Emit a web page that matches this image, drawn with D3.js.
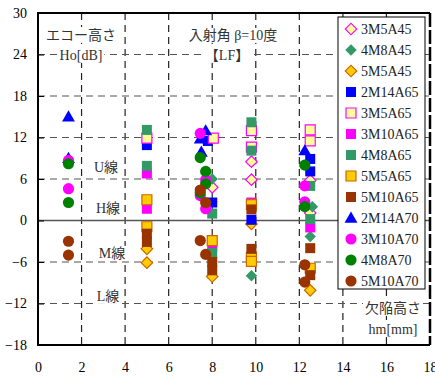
<!DOCTYPE html>
<html><head><meta charset="utf-8">
<script src="https://cdn.jsdelivr.net/npm/d3@7"></script>
<style>body{margin:0;background:#fff}</style>
</head><body>
<svg id="c" width="435" height="385"></svg>
<script>
// ---- data ----
const xTicks = [0,2,4,6,8,10,12,14,16,18];
const yTicks = [-18,-12,-6,0,6,12,18,24,30];
const seriesNames = ["3M5A45","4M8A45","5M5A45","2M14A65","3M5A65","3M10A65","4M8A65","5M5A65","5M10A65","2M14A70","3M10A70","4M8A70","5M10A70"];
// each series: [hm (mm), Ho (dB)]
const s3M5A45  = [[9.8,8.5],[9.8,5.9],[8.0,4.8],[12.5,1.1],[12.5,5.8]];
const s4M8A45  = [[8.0,6.0],[9.8,-8.0],[12.6,2.0],[12.5,-2.3]];
const s5M5A45  = [[5.0,-4.1],[5.0,-6.1],[8.0,-8.1],[9.8,-0.5],[12.5,-10.1]];
const s2M14A65 = [[5.0,10.9],[7.8,11.5],[8.0,2.6],[9.8,0.1],[12.5,8.9],[12.5,7.1]];
const s3M5A65  = [[5.0,11.9],[8.05,11.9],[9.8,13.0],[9.8,10.6],[12.5,13.1],[12.5,11.5]];
const s3M10A65 = [[5.0,6.8],[5.0,1.7],[8.0,-3.8],[9.8,2.6],[12.5,-1.0]];
const s4M8A65  = [[5.0,13.1],[5.0,7.9],[8.0,1.0],[8.0,-4.7],[9.8,14.2],[9.8,10.1],[12.5,5.0],[12.5,0.2]];
const s5M5A65  = [[5.0,3.0],[5.0,-0.9],[8.0,-2.9],[9.8,2.3],[9.8,-5.3],[9.8,-5.9],[12.5,-6.9]];
const s5M10A65 = [[5.0,-1.9],[5.0,-3.1],[8.0,-6.0],[8.0,-7.2],[9.8,1.6],[9.8,-4.1],[12.5,-4.0],[12.5,-7.9]];
const s2M14A70 = [[1.4,15.0],[1.4,9.0],[7.7,13.0],[7.45,11.8],[7.5,9.9],[12.25,10.1]];
const s3M10A70 = [[1.4,8.7],[1.4,4.6],[7.45,12.6],[7.7,5.9],[7.45,3.6],[7.7,1.7],[12.25,5.0],[12.25,2.7]];
const s4M8A70  = [[1.4,8.2],[1.4,2.6],[7.45,9.1],[7.7,7.1],[7.7,5.3],[7.45,4.0],[12.25,8.0],[12.25,2.0]];
const s5M10A70 = [[1.4,-3.0],[1.4,-5.0],[7.45,4.4],[7.7,2.6],[7.45,-2.9],[7.7,-4.9],[12.25,-6.4],[12.25,-8.9]];
const seriesData = [s3M5A45,s4M8A45,s5M5A45,s2M14A65,s3M5A65,s3M10A65,s4M8A65,s5M5A65,s5M10A65,s2M14A70,s3M10A70,s4M8A70,s5M10A70];

// ---- styles ----
const styles = [
  {shape:"diamond", fill:"#FFFF99", stroke:"#FF00FF"},
  {shape:"diamond", fill:"#339966", stroke:"none"},
  {shape:"diamond", fill:"#FFCC00", stroke:"#CC6600"},
  {shape:"square",  fill:"#0000FF", stroke:"none"},
  {shape:"square",  fill:"#FFFF99", stroke:"#FF00FF"},
  {shape:"square",  fill:"#FF00FF", stroke:"none"},
  {shape:"square",  fill:"#339966", stroke:"none"},
  {shape:"square",  fill:"#FFCC00", stroke:"#CC6600"},
  {shape:"square",  fill:"#993300", stroke:"none"},
  {shape:"triangle",fill:"#0000FF", stroke:"none"},
  {shape:"circle",  fill:"#FF00FF", stroke:"none"},
  {shape:"circle",  fill:"#008000", stroke:"none"},
  {shape:"circle",  fill:"#993300", stroke:"none"}
];
const symGen = {
  diamond: d3.symbol(d3.symbolSquare, 66)(),
  square: d3.symbol(d3.symbolSquare, 100)(),
  triangle: d3.symbol(d3.symbolTriangle, 72)(),
  circle: d3.symbol(d3.symbolCircle, 98)()
};
function drawSym(sel, st){
  sel.append("path").attr("d", symGen[st.shape])
    .attr("transform", (st.shape==="diamond" ? "rotate(45)" : (st.shape==="triangle"?"translate(0,1)":"")))
    .attr("fill", st.fill)
    .attr("stroke", st.stroke).attr("stroke-width", st.stroke==="none"?0:1.2);
}

const FONT = "'Liberation Serif','Times New Roman','Noto Sans CJK JP',serif";
const svg = d3.select("#c");
const x = d3.scaleLinear().domain([0,18]).range([38,430]);
const y = d3.scaleLinear().domain([-18,30]).range([345,13]);

// grid
const g = svg.append("g");
g.selectAll(".vg").data(xTicks.filter(t=>t>0&&t<18)).join("line")
  .attr("x1",d=>x(d)).attr("x2",d=>x(d)).attr("y1",y(30)).attr("y2",y(-18))
  .attr("stroke","#222").attr("stroke-width",1.2).attr("stroke-dasharray","7,5");
g.selectAll(".hg").data(yTicks.filter(t=>t>-18&&t<30&&t!==0)).join("line")
  .attr("x1",x(0)).attr("x2",x(18)).attr("y1",d=>y(d)).attr("y2",d=>y(d))
  .attr("stroke","#555").attr("stroke-width",1.2).attr("stroke-dasharray","7,5");
g.append("line").attr("x1",x(0)).attr("x2",x(18)).attr("y1",y(0)).attr("y2",y(0))
  .attr("stroke","#555").attr("stroke-width",1.5);

// annotations with white backgrounds
const notes = [
  {t:"エコー高さ", x:81, y:35},
  {t:"Ho[dB]", x:81, y:55},
  {t:"入射角 β=10度", x:233, y:35},
  {t:"【LF】", x:227, y:55},
  {t:"U線", x:106, y:167},
  {t:"H線", x:108, y:208},
  {t:"M線", x:112, y:253},
  {t:"L線", x:108, y:296},
  {t:"欠陥高さ", x:393, y:308},
  {t:"hm[mm]", x:393, y:329}
];
const ng = svg.append("g");
notes.forEach(n=>{
  const grp = ng.append("g");
  const r = grp.append("rect").attr("fill","#fff");
  const tx = grp.append("text").attr("x",n.x).attr("y",n.y).attr("dy","0.35em")
    .attr("text-anchor","middle").attr("font-family",FONT).attr("font-size",14)
    .attr("fill","#333").text(n.t);
  const b = tx.node().getBBox();
  r.attr("x",b.x-2).attr("y",b.y).attr("width",b.width+4).attr("height",b.height);
});

// axes
const ax = svg.append("g");
ax.append("g").attr("transform",`translate(${x(0)},0)`)
  .call(d3.axisLeft(y).tickValues(yTicks).tickSize(-6).tickPadding(11).tickFormat(d3.format("d")))
  .call(s=>{s.select(".domain").remove(); s.selectAll("text").attr("font-family",FONT).attr("font-size",14).attr("fill","#000"); s.selectAll("line").attr("stroke","#000");});
ax.append("g").attr("transform",`translate(0,${y(-18)})`)
  .call(d3.axisBottom(x).tickValues(xTicks).tickSize(0).tickPadding(17).tickFormat(d3.format("d")))
  .call(s=>{s.select(".domain").remove(); s.selectAll("text").attr("font-family",FONT).attr("font-size",14).attr("fill","#000");});

// border
svg.append("path").attr("d",`M${x(18)},${y(30)}H${x(0)}V${y(-18)}H${x(18)}`)
  .attr("fill","none").attr("stroke","#000").attr("stroke-width",2);
svg.append("line").attr("x1",x(18)).attr("x2",x(18)).attr("y1",y(30)).attr("y2",y(-18))
  .attr("stroke","#000").attr("stroke-width",2.5).attr("stroke-dasharray","14,3");

// points
const pg = svg.append("g");
seriesData.forEach((arr,i)=>{
  arr.forEach(p=>{
    const m = pg.append("g").attr("transform",`translate(${x(p[0])},${y(p[1])})`);
    drawSym(m, styles[i]);
  });
});

// legend
const lg = svg.append("g");
lg.append("rect").attr("x",338).attr("y",17).attr("width",87).attr("height",272)
  .attr("fill","#fff").attr("stroke","#000").attr("stroke-width",1);
seriesNames.forEach((nm,i)=>{
  const yy = 29 + i*21;
  const m = lg.append("g").attr("transform",`translate(351,${yy})`);
  drawSym(m, styles[i]);
  lg.append("text").attr("x",361).attr("y",yy).attr("dy","0.35em")
    .attr("font-family",FONT).attr("font-size",14).attr("fill","#222").text(nm);
});
</script>
</body></html>
